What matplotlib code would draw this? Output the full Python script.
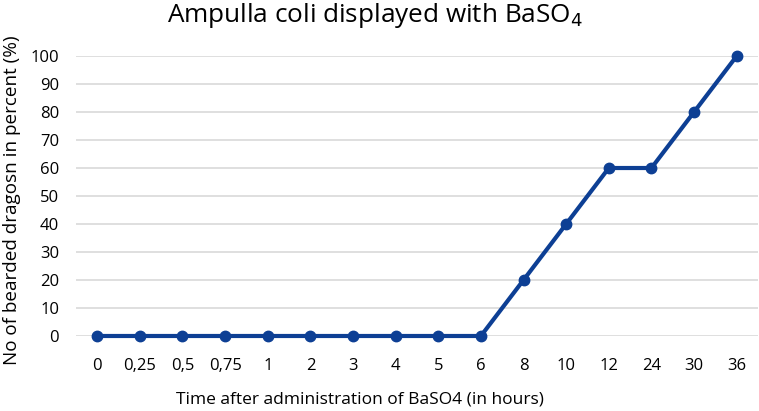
import matplotlib.pyplot as plt

# data
hours = ['0', '0,25', '0,5', '0,75', '1', '2', '3', '4', '5', '6',
         '8', '10', '12', '24', '30', '36']
percent = [0, 0, 0, 0, 0, 0, 0, 0, 0, 0, 20, 40, 60, 60, 80, 100]
yticks = list(range(0, 101, 10))

plt.rcParams['font.family'] = ['Open Sans', 'DejaVu Sans']

fig = plt.figure(figsize=(7.59, 4.11), dpi=100)
ax = fig.add_axes([0.1, 0.1825, 0.8987, 0.6812])

x = range(len(hours))
ax.plot(x, percent, color='#0D3F94', linewidth=3, marker='o',
        markersize=7.5, zorder=3, clip_on=False)

ax.set_xlim(-0.5, len(hours) - 0.5)
ax.set_ylim(0, 100)
ax.set_yticks(yticks)
ax.set_xticks(list(x))
ax.set_xticklabels(hours)
ax.yaxis.grid(True, color='#D9D9D9', linewidth=1.2)
ax.set_axisbelow(True)
for s in ax.spines.values():
    s.set_visible(False)
ax.tick_params(length=0, labelsize=12, colors='#000000')
ax.tick_params(axis='x', pad=16)
ax.tick_params(axis='y', pad=12)

# title / labels placed like the original (not centred on the axes)
fig.text(375 / 759, 1 - 15 / 411, 'Ampulla coli displayed with BaSO$_4$',
         fontsize=18.8, ha='center', va='center')
ax.set_xlabel('Time after administration of BaSO4 (in hours)', fontsize=12.5)
ax.xaxis.set_label_coords((360 - 76) / 683, -0.2)
ax.set_ylabel('No of bearded dragosn in percent (%)', fontsize=13.6)
ax.yaxis.set_label_coords(-(76 - 21) / 683, 0.486)

fig.savefig('out.png', dpi=100)
